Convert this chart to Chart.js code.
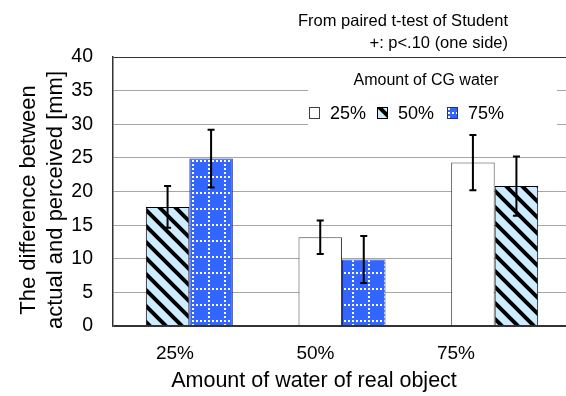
<!DOCTYPE html>
<html>
<head>
<meta charset="utf-8">
<script src="https://cdn.jsdelivr.net/npm/chart.js@4.4.1/dist/chart.umd.min.js"></script>
<style>
  html, body { margin: 0; padding: 0; overflow: hidden; background: #fff; }
  #wrap { width: 572px; height: 396px; }
</style>
</head>
<body>
<div id="wrap"><canvas id="chart" width="572" height="396"></canvas></div>
<script>
// categories on the x axis (amount of water of the real object)
const categories = ['25%', '50%', '75%'];
// series = amount of CG water
const seriesNames = ['25%', '50%', '75%'];

// mean difference [mm], null where CG == real
const cg25 = [null, 13.2, 24.3];
const cg50 = [17.7, null, 20.8];
const cg75 = [24.9, 9.9, null];

// error bar half-lengths
const err25 = [null, 2.5, 4.1];
const err50 = [3.1, null, 4.4];
const err75 = [4.3, 3.5, null];

const yTicks = [0, 5, 10, 15, 20, 25, 30, 35, 40];

const FONT = "'Liberation Sans', 'Noto Sans CJK JP', sans-serif";

const ctx = document.getElementById('chart').getContext('2d');

// diagonal black stripes on light blue
function hatchPattern() {
    const c = document.createElement('canvas');
    c.width = 16; c.height = 16;
    const g = c.getContext('2d');
    g.fillStyle = '#CCECFF';
    g.fillRect(0, 0, 16, 16);
    g.strokeStyle = '#000';
    g.lineWidth = 4;
    g.beginPath();
    g.moveTo(-4, -4); g.lineTo(20, 20);
    g.moveTo(-4, 12); g.lineTo(4, 20);
    g.moveTo(12, -4); g.lineTo(20, 4);
    g.stroke();
    return ctx.createPattern(c, 'repeat');
}

// blue with white dotted grid
function dotGridPattern() {
    const c = document.createElement('canvas');
    c.width = 16; c.height = 16;
    const g = c.getContext('2d');
    g.fillStyle = '#3366FF';
    g.fillRect(0, 0, 16, 16);
    g.fillStyle = '#fff';
    for (let i = 0; i < 16; i += 4) {
        g.fillRect(0, i, 2, 2);
        g.fillRect(i, 0, 2, 2);
    }
    return ctx.createPattern(c, 'repeat');
}

const fills = ['#ffffff', hatchPattern(), dotGridPattern()];
const borders = ['#404040', '#000000', '#1F2F8F'];
const errs = [err25, err50, err75];

// error bars drawn from the y scale
const errorBars = {
    id: 'errorBars',
    afterDatasetsDraw(chart) {
        const c = chart.ctx;
        const y = chart.scales.y;
        c.save();
        c.strokeStyle = '#000';
        c.lineWidth = 2;
        chart.data.datasets.forEach((ds, i) => {
            chart.getDatasetMeta(i).data.forEach((bar, j) => {
                const v = ds.data[j];
                if (v === null) return;
                const e = errs[i][j];
                const top = y.getPixelForValue(v + e);
                const bot = y.getPixelForValue(v - e);
                c.beginPath();
                c.moveTo(bar.x, top); c.lineTo(bar.x, bot);
                c.moveTo(bar.x - 3.5, top); c.lineTo(bar.x + 3.5, top);
                c.moveTo(bar.x - 3.5, bot); c.lineTo(bar.x + 3.5, bot);
                c.stroke();
            });
        });
        c.restore();
    }
};

// legend box inside the plot, note above it, axis titles
const extras = {
    id: 'extras',
    afterDraw(chart) {
        const c = chart.ctx;
        c.save();
        c.fillStyle = '#fff';
        c.fillRect(308, 68, 249, 60);

        c.fillStyle = '#000';
        c.textBaseline = 'middle';
        c.font = '16px ' + FONT;
        c.textAlign = 'center';
        c.fillText('Amount of CG water', 426, 81);

        const swX = [309, 377, 447];
        const txX = [330, 398, 468];
        c.font = '18px ' + FONT;
        c.textAlign = 'left';
        seriesNames.forEach((name, i) => {
            c.fillStyle = fills[i];
            c.fillRect(swX[i], 107, 11, 12);
            c.strokeStyle = borders[i];
            c.lineWidth = 1;
            c.strokeRect(swX[i] + 0.5, 107.5, 10, 11);
            c.fillStyle = '#000';
            c.fillText(name, txX[i], 114);
        });

        c.font = '16.5px ' + FONT;
        c.textAlign = 'right';
        c.fillText('From paired t-test of Student', 508, 21);
        c.fillText('+: p<.10 (one side)', 508, 43);

        // axis titles
        c.font = '21.5px ' + FONT;
        c.textAlign = 'center';
        c.fillText('Amount of water of real object', 314, 381);
        c.font = '22px ' + FONT;
        c.translate(0, 200);
        c.rotate(-Math.PI / 2);
        c.fillText('The difference between', 0, 29);
        c.fillText('actual and perceived [mm]', 0, 56);
        c.restore();
    }
};

const datasets = [cg25, cg50, cg75].map((d, i) => ({
    label: seriesNames[i],
    data: d,
    backgroundColor: fills[i],
    borderColor: borders[i],
    borderWidth: 1,
    skipNull: true,
    categoryPercentage: 0.57,
    barPercentage: 1.0
}));

new Chart(ctx, {
    type: 'bar',
    data: { labels: categories, datasets },
    options: {
        responsive: false,
        animation: false,
        layout: { padding: { top: 57, right: 1, left: 0, bottom: 0 } },
        plugins: {
            legend: { display: false },
            tooltip: { enabled: false }
        },
        scales: {
            x: {
                type: 'category',
                display: false,
                offset: true
            },
            // label axis: tick labels sit slightly left of the groups in the original
            x2: {
                type: 'linear',
                axis: 'x',
                position: 'bottom',
                offset: false,
                min: -0.441,
                max: 2.819,
                afterBuildTicks: (s) => { s.ticks = [0, 1, 2].map(v => ({ value: v })); },
                afterFit: (s) => { s.height = 70; },
                grid: { display: false, drawTicks: false, offset: false },
                border: { display: false },
                ticks: {
                    autoSkip: false,
                    maxRotation: 0,
                    padding: 16,
                    color: '#000',
                    font: { family: FONT, size: 19 },
                    callback: (v) => categories[v]
                }
            },
            y: {
                min: 0,
                max: 40,
                afterBuildTicks: (s) => { s.ticks = yTicks.map(v => ({ value: v })); },
                afterFit: (s) => { s.width = 113; },
                grid: {
                    drawTicks: false,
                    color: (c) => (c.tick.value === 0 || c.tick.value === 40) ? '#333' : '#A6A6A6',
                    lineWidth: (c) => c.tick.value === 0 ? 2 : 1
                },
                border: { color: '#333', width: 1.5 },
                ticks: {
                    padding: 20,
                    color: '#000',
                    font: { family: FONT, size: 19.5 }
                }
            }
        }
    },
    plugins: [errorBars, extras]
});
</script>
</body>
</html>
